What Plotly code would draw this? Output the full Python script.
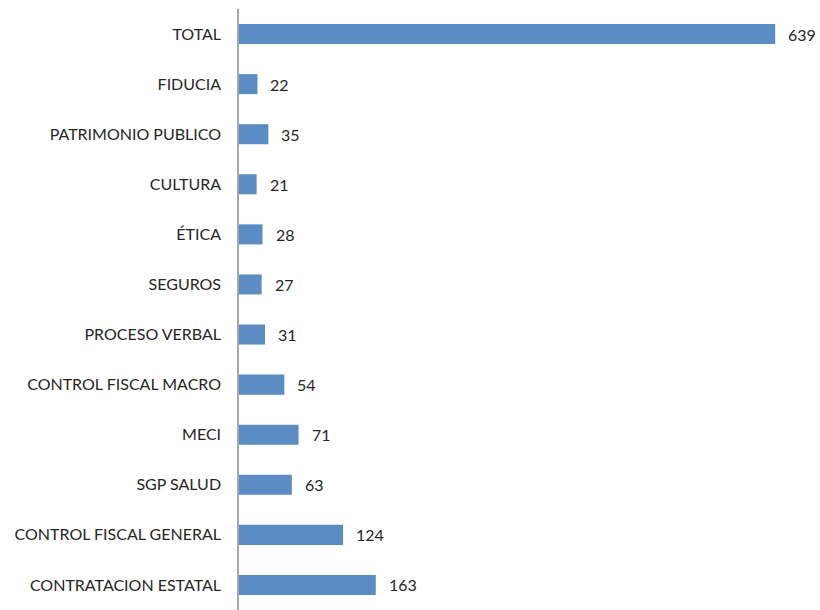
import plotly.graph_objects as go

categories = [
    "TOTAL", "FIDUCIA", "PATRIMONIO PUBLICO", "CULTURA", "ÉTICA", "SEGUROS",
    "PROCESO VERBAL", "CONTROL FISCAL MACRO", "MECI", "SGP SALUD",
    "CONTROL FISCAL GENERAL", "CONTRATACION ESTATAL",
]
values = [639, 22, 35, 21, 28, 27, 31, 54, 71, 63, 124, 163]

BAR_COLOR = "#5b8cc4"
TEXT_COLOR = "#262626"
FONT = "Lato, 'Open Sans', sans-serif"

fig = go.Figure(
    go.Bar(
        x=values,
        y=categories,
        orientation="h",
        marker=dict(color=BAR_COLOR, line=dict(width=0)),
        hoverinfo="x+y",
    )
)

# value labels just to the right of each bar
for cat, val in zip(categories, values):
    fig.add_annotation(
        x=val, y=cat, text=str(val), showarrow=False,
        xanchor="left", yanchor="middle", xshift=11,
        font=dict(family=FONT, size=16, color=TEXT_COLOR),
    )

fig.update_layout(
    width=820, height=610,
    margin=dict(l=239, r=2, t=9, b=0),
    plot_bgcolor="white", paper_bgcolor="white",
    bargap=0.6,
    showlegend=False,
    font=dict(family=FONT, size=16, color=TEXT_COLOR),
)
fig.update_xaxes(
    range=[0, 690], visible=False, showgrid=False, zeroline=False,
)
fig.update_yaxes(
    autorange="reversed", showgrid=False, zeroline=False,
    showline=True, linecolor="#a8a8a8", linewidth=1.5,
    ticks="", ticklabelstandoff=13,
    tickfont=dict(family=FONT, size=16, color=TEXT_COLOR),
)

fig.write_html("out.html")
